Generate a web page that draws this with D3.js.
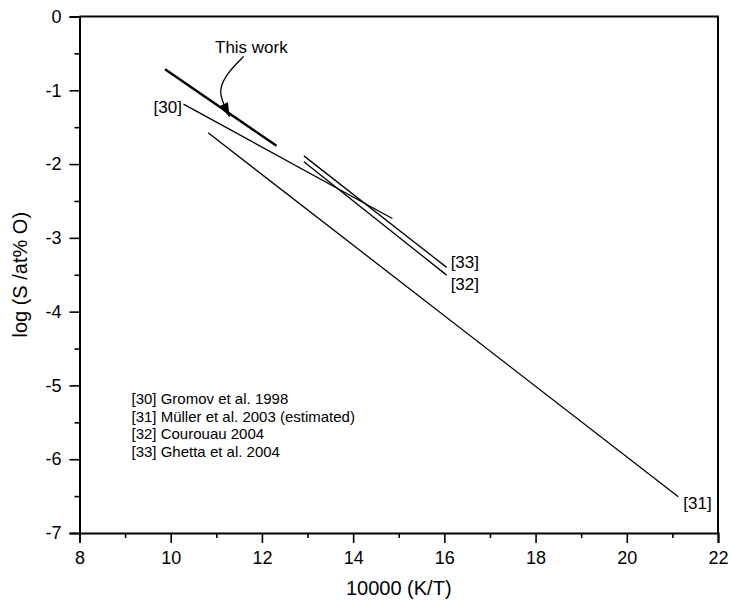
<!DOCTYPE html>
<html>
<head>
<meta charset="utf-8">
<script src="https://cdn.jsdelivr.net/npm/d3@7"></script>
<style>
  html, body { margin: 0; padding: 0; background: #fff; }
  svg { display: block; font-family: "Liberation Sans", Arial, Helvetica, sans-serif; }
</style>
</head>
<body>
<svg id="chart" width="731" height="600"></svg>
<script>
// Solubility lines: log S (at% O) versus 10000/T, each given by its two end points
const thisWorkX = [9.875, 12.32];
const thisWorkY = [-0.714, -1.753];
const gromovX = [10.28, 14.86];      // [30]
const gromovY = [-1.188, -2.737];
const mullerX = [10.82, 21.13];      // [31]
const mullerY = [-1.577, -6.51];
const courouauX = [12.92, 16.05];    // [32]
const courouauY = [-1.97, -3.505];
const ghettaX = [12.92, 16.05];      // [33]
const ghettaY = [-1.889, -3.40];

const xTicks = [8, 10, 12, 14, 16, 18, 20, 22];
const xMinorTicks = [9, 11, 13, 15, 17, 19, 21];
const yTicks = [0, -1, -2, -3, -4, -5, -6, -7];
const yMinorTicks = [-0.5, -1.5, -2.5, -3.5, -4.5, -5.5, -6.5];

const legendLabels = [
  "[30] Gromov et al. 1998",
  "[31] Müller et al. 2003 (estimated)",
  "[32] Courouau 2004",
  "[33] Ghetta et al. 2004"
];

// Annotation arrow for "This work" (data units)
const arrowPathX = [11.6, 11.23, 11.05, 11.16, 11.29];
const arrowPathY = [-0.54, -0.77, -1.0, -1.19, -1.36];

const svg = d3.select("#chart");
const L = 79.5, R = 718, T = 16.5, B = 533;

const x = d3.scaleLinear().domain([8, 22]).range([L, R]);
const y = d3.scaleLinear().domain([-7, 0]).range([B, T]);

// Frame (top and right edges)
svg.append("path")
  .attr("d", `M${L},${T}H${R}V${B}`)
  .attr("fill", "none").attr("stroke", "#000").attr("stroke-width", 2);

// Bottom axis
const gx = svg.append("g").attr("transform", `translate(0,${B})`);
gx.call(d3.axisBottom(x).tickValues(xTicks).tickSize(10).tickPadding(8).tickFormat(d3.format("d")));
gx.append("g").call(d3.axisBottom(x).tickValues(xMinorTicks).tickSize(5).tickFormat(""))
  .select(".domain").remove();

// Left axis
const gy = svg.append("g").attr("transform", `translate(${L},0)`);
gy.call(d3.axisLeft(y).tickValues(yTicks).tickSize(10).tickPadding(8).tickFormat(d => d === 0 ? "0" : "-" + Math.abs(d)));
gy.append("g").call(d3.axisLeft(y).tickValues(yMinorTicks).tickSize(5).tickFormat(""))
  .select(".domain").remove();

svg.selectAll(".domain").attr("stroke-width", 2).attr("stroke", "#000");
svg.selectAll(".tick line").attr("stroke-width", 1.6).attr("stroke", "#000");
svg.selectAll(".tick text").attr("font-size", 18).attr("fill", "#000")
  .attr("font-family", "\"Liberation Sans\", Arial, sans-serif");

// Axis titles
svg.append("text")
  .attr("x", (L + R) / 2).attr("y", 595)
  .attr("text-anchor", "middle").attr("font-size", 20)
  .text("10000 (K/T)");
svg.append("text")
  .attr("transform", `translate(27,${(T + B) / 2}) rotate(-90)`)
  .attr("text-anchor", "middle").attr("font-size", 20)
  .text("log (S /at% O)");

// Lines
const seg = (xs, ys) => d3.line().x(d => x(d[0])).y(d => y(d[1]))(xs.map((v, i) => [v, ys[i]]));

svg.append("path").attr("d", seg(thisWorkX, thisWorkY))
  .attr("stroke", "#000").attr("stroke-width", 2.4).attr("fill", "none");
[[gromovX, gromovY], [mullerX, mullerY], [courouauX, courouauY], [ghettaX, ghettaY]]
  .forEach(([xs, ys]) => {
    svg.append("path").attr("d", seg(xs, ys))
      .attr("stroke", "#000").attr("stroke-width", 1.3).attr("fill", "none");
  });

// Line labels
const lab = (txt, px, py, anchor) => svg.append("text")
  .attr("x", px).attr("y", py).attr("text-anchor", anchor)
  .attr("font-size", 17).text(txt);
lab("[30]", x(gromovX[0]) - 1.5, y(gromovY[0]) + 8.5, "end");
lab("[31]", x(mullerX[1]) + 5, y(mullerY[1]) + 12.5, "start");
lab("[33]", x(ghettaX[1]) + 4, y(ghettaY[1]) + 1, "start");
lab("[32]", x(courouauX[1]) + 4, y(courouauY[1]) + 15, "start");

// "This work" annotation
svg.append("text").attr("x", 215).attr("y", 52.5)
  .attr("font-size", 17).text("This work");

const defs = svg.append("defs");
defs.append("marker")
  .attr("id", "arrowhead").attr("viewBox", "0 0 10 10")
  .attr("refX", 10).attr("refY", 5)
  .attr("markerWidth", 14).attr("markerHeight", 14)
  .attr("markerUnits", "userSpaceOnUse")
  .attr("orient", "auto")
  .append("path").attr("d", "M0,1.5 L10,5 L0,8.5 Z").attr("fill", "#000");

svg.append("path")
  .attr("d", d3.line().curve(d3.curveBasis).x(d => x(d[0])).y(d => y(d[1]))(arrowPathX.map((v, i) => [v, arrowPathY[i]])))
  .attr("fill", "none").attr("stroke", "#000").attr("stroke-width", 1.3)
  .attr("marker-end", "url(#arrowhead)");

// Legend
const legend = svg.append("g").attr("transform", "translate(131.5,404)");
legend.selectAll("text").data(legendLabels).join("text")
  .attr("x", 0).attr("y", (d, i) => i * 17.7)
  .attr("font-size", 15).text(d => d);
</script>
</body>
</html>
